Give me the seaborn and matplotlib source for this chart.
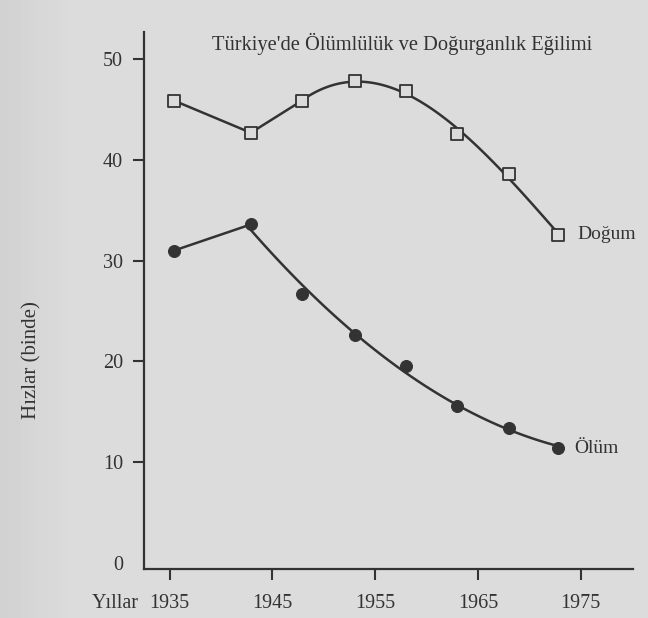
import numpy as np
import pandas as pd
import matplotlib
matplotlib.use('Agg')
import matplotlib.pyplot as plt
import seaborn as sns

# values (rates per thousand)
years = [1935.4, 1942.9, 1947.9, 1953.0, 1958.0, 1963.0, 1968.0, 1972.8]
dogum = [45.9, 42.7, 45.9, 47.8, 46.8, 42.6, 38.6, 32.6]
olum = [31.0, 33.6, 26.7, 22.6, 19.5, 15.6, 13.4, 11.4]

x_ticks = [1935, 1945, 1955, 1965, 1975]
y_ticks = [0, 10, 20, 30, 40, 50]

title = "Türkiye'de Ölümlülük ve Doğurganlık Eğilimi"
paper = '#dbdbdb'
ink = '#333333'
fs = 14.5

sns.set_style('ticks')
plt.rcParams['font.family'] = ['Liberation Serif', 'DejaVu Serif']

df = pd.DataFrame({'yil': years, 'dogum': dogum, 'olum': olum})

fig = plt.figure(figsize=(6.48, 6.18), dpi=100, facecolor=paper)

# scanned page: slightly darker towards the gutter on the left
bg = fig.add_axes([0, 0, 1, 1], zorder=-10)
shade = np.linspace(0.82, 0.86, 70)
bg.imshow(np.concatenate([shade, np.full(578, 0.86)])[None, :], cmap='gray',
          vmin=0, vmax=1, aspect='auto', extent=[0, 1, 0, 1])
bg.set_axis_off()

ax = fig.add_axes([0.2222, 0.0793, 0.7547, 0.8689])
ax.patch.set_alpha(0)

line_kw = dict(color=ink, linewidth=1.8)

# straight start, then a smooth trend like the hand-drawn original
sns.lineplot(data=df.iloc[:3], x='yil', y='dogum', ax=ax, **line_kw)
sns.regplot(data=df.iloc[2:], x='yil', y='dogum', ax=ax, order=3, ci=None,
            scatter=False, truncate=True, line_kws=line_kw)
sns.lineplot(data=df.iloc[:2], x='yil', y='olum', ax=ax, **line_kw)
sns.regplot(data=df.iloc[1:], x='yil', y='olum', ax=ax, order=2, ci=None,
            scatter=False, truncate=True, line_kws=line_kw)

sns.scatterplot(data=df, x='yil', y='dogum', ax=ax, marker='s', s=65,
                facecolor=paper, edgecolor=ink, linewidth=1.3, zorder=5)
sns.scatterplot(data=df, x='yil', y='olum', ax=ax, marker='o', s=75,
                color=ink, edgecolor=ink, zorder=5)

ax.annotate('Doğum', xy=(years[-1], dogum[-1]), xytext=(14, 0),
            textcoords='offset points', va='center', ha='left',
            fontsize=14, color=ink)
ax.annotate('Ölüm', xy=(years[-1], olum[-1]), xytext=(12, 0),
            textcoords='offset points', va='center', ha='left',
            fontsize=14, color=ink)

ax.text(0.528, 0.978, title, transform=ax.transAxes, ha='center', va='center',
        fontsize=14.8, color=ink)

ax.set_xlim(1932.5, 1980.1)
ax.set_ylim(-0.6, 52.7)
ax.set_xticks(x_ticks)
ax.set_yticks(y_ticks)
ax.tick_params(axis='both', direction='out', length=8, width=1.5, colors=ink,
               labelsize=fs, labelcolor=ink)
ax.tick_params(axis='y', pad=7)
ax.tick_params(axis='x', pad=10)
ax.yaxis.get_major_ticks()[0].tick1line.set_visible(False)

sns.despine(ax=ax)
for side in ['left', 'bottom']:
    ax.spines[side].set_linewidth(1.6)
    ax.spines[side].set_color(ink)

ax.set_xlabel('')
ax.set_ylabel('Hızlar (binde)', fontsize=15, color=ink)
ax.yaxis.set_label_coords(-0.21, 0.389)

fig.text(115 / 648, 1 - 604 / 618, 'Yıllar', ha='center', va='center',
         fontsize=fs, color=ink)

fig.savefig('out.png', dpi=100, facecolor=paper)
